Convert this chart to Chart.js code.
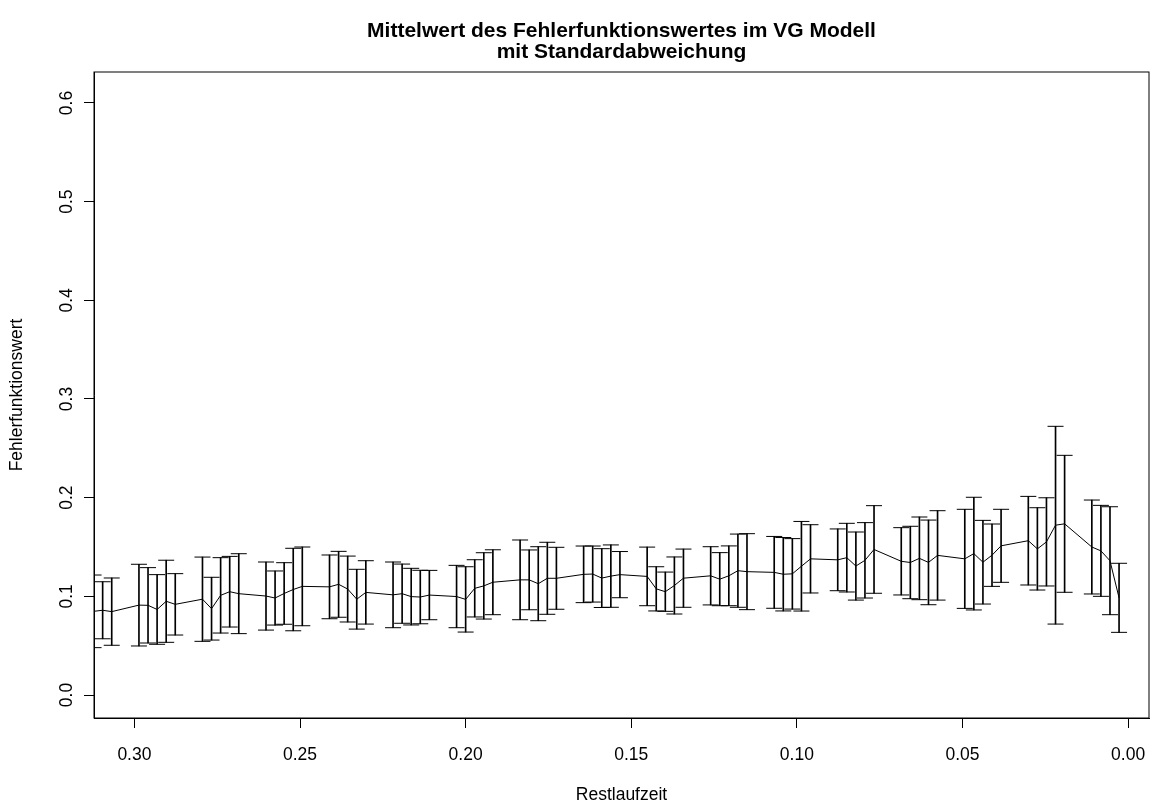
<!DOCTYPE html>
<html lang="de">
<head>
    <meta charset="UTF-8">
    <title>Fehlerfunktionswert VG Modell</title>
    <script src="https://cdn.jsdelivr.net/npm/chart.js"></script>
    <style>
        body { margin: 0; background: #fff; }
        #wrap { width: 1171px; height: 807px; }
    </style>
</head>
<body>
    <div id="wrap">
        <canvas id="vgChart" width="1171" height="807"></canvas>
    </div>
    <script>
        // Restlaufzeit in Tagen (Handelstage)
        const restTage = [114, 113, 112, 109, 108, 107, 106, 105, 102, 101, 100, 99, 98,
            95, 94, 93, 92, 91, 88, 87, 86, 85, 84, 81, 80, 79, 78, 77,
            74, 73, 72, 71, 70, 67, 66, 65, 64, 63, 60, 59, 58, 57, 56,
            53, 52, 51, 50, 49, 46, 45, 44, 43, 42, 39, 38, 37, 36, 35,
            32, 31, 30, 29, 28, 25, 24, 23, 22, 21, 18, 17, 16, 15, 14,
            11, 10, 9, 8, 7, 4, 3, 2, 1];

        const mittelwert = [0.0848, 0.0859, 0.0845, 0.0911, 0.0909, 0.0867, 0.0950, 0.0919,
            0.0971, 0.0875, 0.1010, 0.1047, 0.1027, 0.1003, 0.0983, 0.1029, 0.1069, 0.1101,
            0.1096, 0.1122, 0.1074, 0.0971, 0.1040, 0.1015, 0.1027, 0.0997, 0.0993, 0.1013,
            0.0998, 0.0969, 0.1081, 0.1106, 0.1143, 0.1167, 0.1167, 0.1128, 0.1183, 0.1183,
            0.1223, 0.1226, 0.1185, 0.1205, 0.1220, 0.1202, 0.1076, 0.1047, 0.1110, 0.1184,
            0.1208, 0.1174, 0.1208, 0.1260, 0.1250, 0.1243, 0.1224, 0.1228, 0.1305, 0.1380,
            0.1370, 0.1392, 0.1307, 0.1365, 0.1475, 0.1355, 0.1343, 0.1385, 0.1344, 0.1415,
            0.1380, 0.1433, 0.1346, 0.1417, 0.1512, 0.1564, 0.1481, 0.1552, 0.1721, 0.1735,
            0.1500, 0.1461, 0.1361, 0.0985];

        const standardabw = [0.0368, 0.0289, 0.0341, 0.0414, 0.0382, 0.0353, 0.0416, 0.0311,
            0.0427, 0.0318, 0.0382, 0.0358, 0.0405, 0.0345, 0.0274, 0.0312, 0.0418, 0.0399,
            0.0323, 0.0334, 0.0334, 0.0303, 0.0321, 0.0333, 0.0300, 0.0287, 0.0271, 0.0250,
            0.0316, 0.0331, 0.0290, 0.0336, 0.0329, 0.0404, 0.0303, 0.0375, 0.0365, 0.0314,
            0.0287, 0.0284, 0.0298, 0.0316, 0.0234, 0.0297, 0.0224, 0.0199, 0.0289, 0.0295,
            0.0295, 0.0269, 0.0303, 0.0371, 0.0385, 0.0364, 0.0372, 0.0357, 0.0454, 0.0346,
            0.0313, 0.0348, 0.0345, 0.0382, 0.0444, 0.0341, 0.0367, 0.0419, 0.0429, 0.0453,
            0.0502, 0.0571, 0.0424, 0.0316, 0.0370, 0.0449, 0.0417, 0.0447, 0.1002, 0.0694,
            0.0476, 0.0461, 0.0547, 0.0350];

        const xTicks = [0.30, 0.25, 0.20, 0.15, 0.10, 0.05, 0.00];
        const yTicks = [0.0, 0.1, 0.2, 0.3, 0.4, 0.5, 0.6];

        const x = restTage.map(t => t / 365);
        const meanPts = x.map((v, i) => ({ x: v, y: mittelwert[i] }));
        const barPts = x.map((v, i) => ({ x: v, y: [mittelwert[i] - standardabw[i], mittelwert[i] + standardabw[i]] }));
        const topPts = x.map((v, i) => ({ x: v, y: mittelwert[i] + standardabw[i] }));
        const lowPts = x.map((v, i) => ({ x: v, y: mittelwert[i] - standardabw[i] }));

        const fontFam = '"Liberation Sans", Arial, Helvetica, sans-serif';

        // Rahmen um die Zeichenfläche wie bei R box()
        const framePlugin = {
            id: 'frame',
            afterDraw(chart) {
                const a = chart.chartArea;
                const ctx = chart.ctx;
                ctx.save();
                ctx.strokeStyle = '#000';
                ctx.lineWidth = 1;
                ctx.strokeRect(a.left, a.top, a.right - a.left, a.bottom - a.top);
                ctx.restore();
            }
        };

        const ctx = document.getElementById('vgChart').getContext('2d');
        new Chart(ctx, {
            type: 'scatter',
            data: {
                datasets: [
                    {
                        type: 'line',
                        data: meanPts,
                        borderColor: '#000',
                        borderWidth: 1,
                        pointRadius: 0,
                        tension: 0,
                        fill: false
                    },
                    {
                        type: 'bar',
                        data: barPts,
                        backgroundColor: '#000',
                        borderWidth: 0,
                        barThickness: 1,
                        grouped: false
                    },
                    {
                        data: topPts,
                        pointStyle: 'line',
                        pointRadius: 8,
                        borderColor: '#000',
                        borderWidth: 1
                    },
                    {
                        data: lowPts,
                        pointStyle: 'line',
                        pointRadius: 8,
                        borderColor: '#000',
                        borderWidth: 1
                    }
                ]
            },
            options: {
                responsive: false,
                animation: false,
                layout: { padding: { left: 0, right: 22, top: 0, bottom: 0 } },
                plugins: {
                    legend: { display: false },
                    tooltip: { enabled: false },
                    title: {
                        display: true,
                        fullSize: false,
                        text: ['Mittelwert des Fehlerfunktionswertes im VG Modell', 'mit Standardabweichung'],
                        color: '#000',
                        font: { family: fontFam, size: 21, weight: 'bold', lineHeight: 1 },
                        padding: { top: 20.5, bottom: 9.5 }
                    }
                },
                scales: {
                    x: {
                        type: 'linear',
                        reverse: true,
                        min: -0.0063,
                        max: 0.3122,
                        offset: false,
                        afterBuildTicks: s => { s.ticks = xTicks.map(v => ({ value: v })); },
                        afterFit: s => { s.height = 89; },
                        grid: { display: true, drawOnChartArea: false, drawTicks: true, tickLength: 10, color: '#000', offset: false },
                        border: { display: true, color: '#000' },
                        ticks: {
                            autoSkip: false,
                            maxRotation: 0,
                            padding: 16.5,
                            color: '#000',
                            font: { family: fontFam, size: 17.5 },
                            callback: v => Number(v).toFixed(2)
                        },
                        title: {
                            display: true,
                            text: 'Restlaufzeit',
                            color: '#000',
                            font: { family: fontFam, size: 17.5 },
                            padding: { top: 0, bottom: 1.5 }
                        }
                    },
                    y: {
                        type: 'linear',
                        min: -0.0233,
                        max: 0.6314,
                        afterBuildTicks: s => { s.ticks = yTicks.map(v => ({ value: v })); },
                        afterFit: s => { s.width = 94; },
                        grid: { display: true, drawOnChartArea: false, drawTicks: true, tickLength: 10, color: '#000' },
                        border: { display: true, color: '#000' },
                        ticks: {
                            autoSkip: false,
                            minRotation: 90,
                            maxRotation: 90,
                            crossAlign: 'center',
                            padding: 4.8,
                            color: '#000',
                            font: { family: fontFam, size: 17.5 },
                            callback: v => Number(v).toFixed(1)
                        },
                        title: {
                            display: true,
                            text: 'Fehlerfunktionswert',
                            color: '#000',
                            font: { family: fontFam, size: 17.5 },
                            padding: { top: 7, bottom: 0 }
                        }
                    }
                }
            },
            plugins: [framePlugin]
        });
    </script>
</body>
</html>
